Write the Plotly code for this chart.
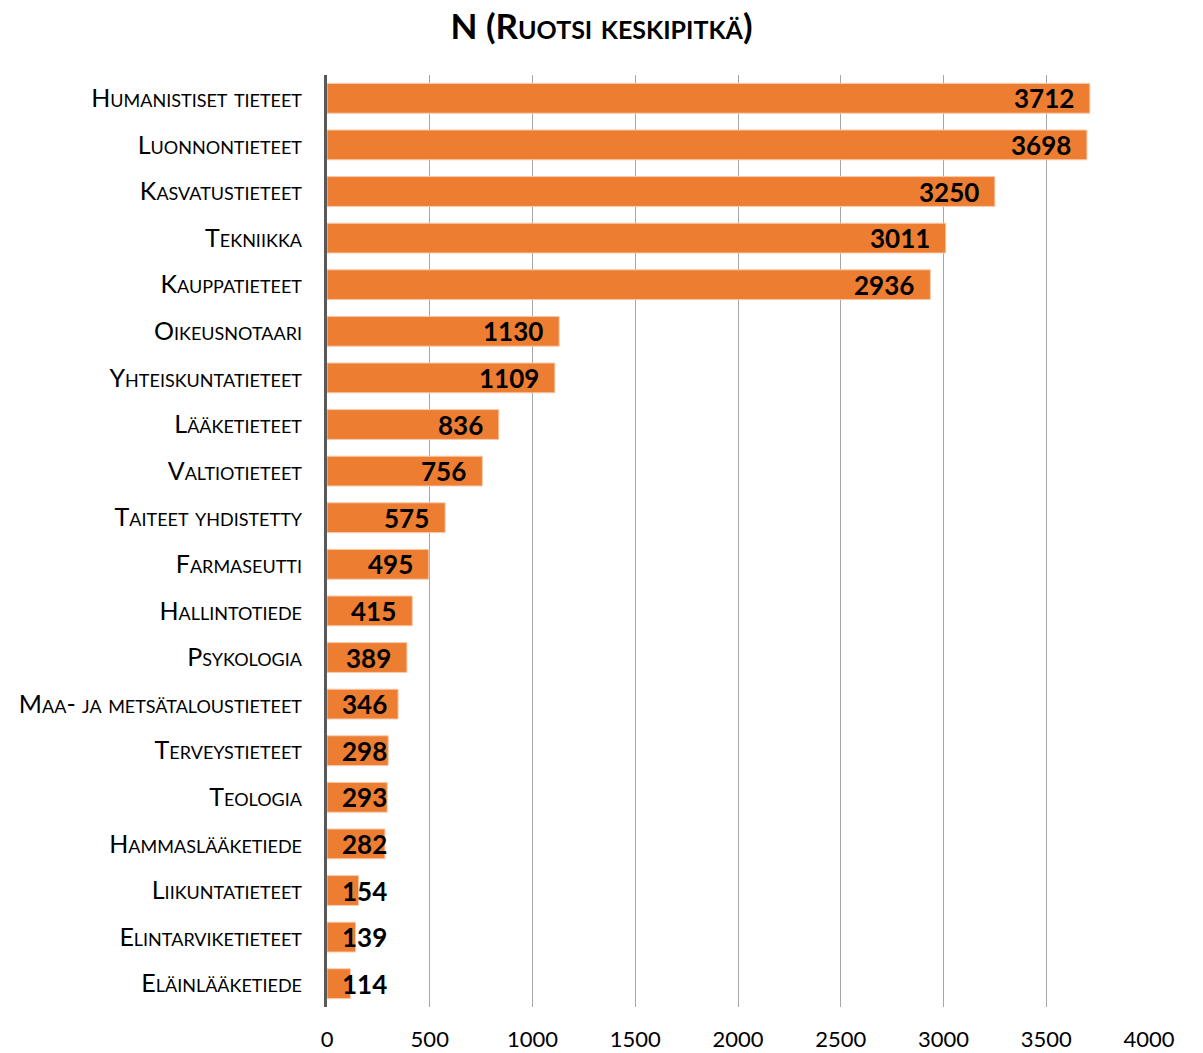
import plotly.graph_objects as go

categories = ["Humanistiset tieteet", "Luonnontieteet", "Kasvatustieteet", "Tekniikka",
              "Kauppatieteet", "Oikeusnotaari", "Yhteiskuntatieteet", "Lääketieteet",
              "Valtiotieteet", "Taiteet yhdistetty", "Farmaseutti", "Hallintotiede",
              "Psykologia", "Maa- ja metsätaloustieteet", "Terveystieteet", "Teologia",
              "Hammaslääketiede", "Liikuntatieteet", "Elintarviketieteet", "Eläinlääketiede"]
values = [3712, 3698, 3250, 3011, 2936, 1130, 1109, 836, 756, 575, 495, 415, 389, 346,
          298, 293, 282, 154, 139, 114]
x_ticks = [0, 500, 1000, 1500, 2000, 2500, 3000, 3500, 4000]

FONT = "Lato, Carlito, Calibri, sans-serif"

fig = go.Figure()
fig.add_trace(go.Bar(
    x=values, y=categories, orientation="h",
    marker=dict(color="#ED7D31", line=dict(color="#F8CBAD", width=1)),
    hoverinfo="x+y",
))

# labels: inside end, but pinned near axis for short bars
min_x = 370
for c, v in zip(categories, values):
    fig.add_annotation(x=max(v, min_x), y=c, text=f"<b>{v}</b>", showarrow=False,
                       xanchor="right", xshift=-14, yshift=0,
                       font=dict(family=FONT, size=26, color="#000000"))

fig.update_layout(
    width=1203, height=1053,
    margin=dict(l=327, r=54, t=75, b=46, autoexpand=False),
    paper_bgcolor="white", plot_bgcolor="white",
    bargap=0.36,
    showlegend=False,
    title=dict(text="<b>N (Ruotsi keskipitkä)</b>", x=0.5, xanchor="center", y=0.986, yanchor="top",
               font=dict(family=FONT, size=35, color="#000000", variant="small-caps")),
    font=dict(family=FONT, color="#000000"),
)
fig.update_xaxes(range=[0, 4000], tickvals=x_ticks, showgrid=True, gridcolor="#A6A6A6", gridwidth=1,
                 zeroline=False, showline=False, ticks="", automargin=False,
                 tickfont=dict(family=FONT, size=22, color="#000000"),
                 ticklabelstandoff=17)
fig.update_yaxes(autorange="reversed", showline=True, linecolor="#595959", linewidth=3,
                 ticks="", ticklabelstandoff=17, automargin=False,
                 tickfont=dict(family=FONT, size=25, color="#000000", variant="small-caps"))

fig.write_html("out.html", config={"displayModeBar": False},
               post_script="document.body.style.margin='0px';document.body.style.overflow='hidden';")
